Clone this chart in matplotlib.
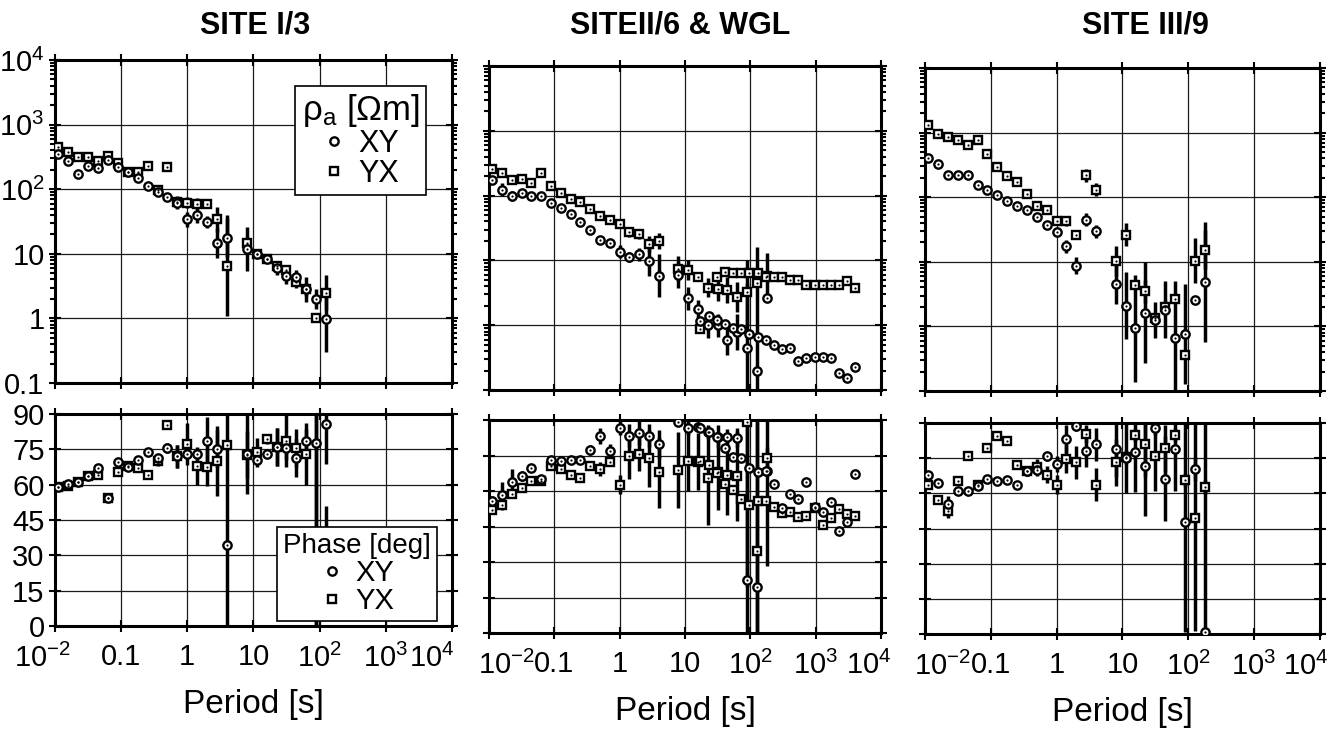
# apparent resistivity and phase curves for three MT sites
import numpy as np
import matplotlib.pyplot as plt
import matplotlib.transforms as mtransforms
from matplotlib.ticker import FixedLocator, LogLocator, NullFormatter
from matplotlib.lines import Line2D

plt.rcParams['font.family'] = ['Liberation Sans', 'DejaVu Sans']
plt.rcParams['mathtext.fontset'] = 'custom'
plt.rcParams['mathtext.rm'] = 'Liberation Sans'
plt.rcParams['mathtext.it'] = 'Liberation Sans:italic'
plt.rcParams['mathtext.bf'] = 'Liberation Sans:bold'

# periods [s]
per = [0.0112, 0.0158, 0.0224, 0.0316, 0.0447, 0.0631, 0.0891, 0.126, 0.178, 0.251,
       0.355, 0.501, 0.708, 1.0, 1.41, 2.0, 2.82, 3.98, 7.94, 11.2,
       15.8, 22.4, 31.6, 44.7, 63.1, 89.1, 126, 178]
per_wgl = [17.3, 23.1, 30.8, 41.0, 54.6, 72.8, 97.0, 129, 172, 230,
           306, 408, 543, 724, 965, 1286, 1713, 2283, 3042, 4054]

x_ticks = [1e-2, 0.1, 1, 10, 100, 1e3, 1e4]
x_labels = ['$10^{-2}$', '0.1', '1', '10', '$10^{2}$', '$10^{3}$', '$10^{4}$']
rho_ticks = [0.1, 1, 10, 100, 1e3, 1e4]
rho_labels = ['0.1', '1', '10', '$10^{2}$', '$10^{3}$', '$10^{4}$']
phase_ticks = [0, 15, 30, 45, 60, 75, 90]

# SITE I/3  (rho in Ohm m, rho errors in decades, phase and errors in deg)
s1_rxy = [351, 277, 174, 226, 215, 283, 218, 185, 151, 111, 92, 77, 62, 34,
          40, 31, 14.5, 17.8, 11.8, 9.8, 8.2, 6.0, 4.6, 4.4, 2.8, 2.0, 0.97]
s1_rxy_e = [0, 0, 0, 0, 0, 0, 0, 0, 0, 0, 0, 0.02, 0.1, 0.12,
            0.13, 0.1, 0.23, 0.3, 0.34, 0.05, 0.03, 0.1, 0.13, 0.1, 0.2, 0.15, 0.5]
s1_ryx = [455, 372, 319, 319, 274, 327, 251, 187, 185, 226, 97, 223, 64, 62,
          60, 60, 34, 6.5, 14.5, 10, 8.2, 6.5, 5.6, 3.7, 2.8, 1.02, 2.5]
s1_ryx_e = [0, 0, 0, 0, 0, 0, 0, 0, 0, 0, 0, 0, 0.05, 0.08,
            0.08, 0.05, 0.2, 0.78, 0.1, 0, 0, 0.05, 0.05, 0.1, 0.1, 0.05, 0.27]
s1_pxy = [58.8, 60.2, 61, 63.5, 67, 54.2, 69.8, 67.3, 70.3, 73.7, 71.5, 75.5, 72, 73,
          73, 78.6, 75, 34.4, 73, 70.5, 73, 76, 75.5, 71.3, 78.6, 77.6, 85.7]
s1_pxy_e = [0, 1, 0, 0, 0, 1, 0, 0, 0, 0, 1, 2, 5, 2,
            2, 10, 8, 60, 17, 2, 1, 8, 5, 8, 5, 80, 17]
s1_pyx = [59, 59.6, 61, 63.5, 64.2, 54.2, 65.3, 68.1, 67, 64.2, 70.1, 85.5, 72, 77.2,
          68, 67.3, 70, 77, 72.7, 73.7, 79.4, 76, 78.6, 75.5, 73, 40, 38]
s1_pyx_e = [0, 0, 0, 0, 1, 1, 0, 0, 0, 0, 2, 2, 5, 9,
            8, 8, 15, 2, 10, 6, 2, 8, 11, 8, 13, 60, 13]

# SITE II/6
s2_rxy = [177, 124, 98, 108, 99, 98, 78, 65, 52, 39, 30, 21, 18.9, 13.6,
          11.4, 12.5, 9.9, 5.8, 5.9, 2.6, 1.75, 1.0, 1.0, 0.59, 0.79, 0.45, 0.2, 2.6]
s2_rxy_e = [0, 0.1, 0.08, 0, 0, 0, 0, 0, 0, 0, 0, 0.05, 0.05, 0.1,
            0.08, 0.1, 0.24, 0.33, 0.2, 0.18, 0.15, 0.2, 0.18, 0.23, 0.28, 1.0, 1.9, 0.05]
s2_ryx = [261, 224, 173, 179, 159, 224, 140, 108, 88, 80, 62, 49, 42, 37,
          27.6, 25.4, 17.8, 19.8, 7.5, 7.1, 5.5, 3.8, 3.6, 3.5, 2.7, 3.2, 4.5, 5.7]
s2_ryx_e = [0, 0, 0, 0, 0, 0, 0, 0, 0, 0, 0, 0, 0, 0.05,
            0.08, 0.08, 0.12, 0.12, 0.2, 0.15, 0.05, 0.15, 0.18, 0.2, 0.23, 0.5, 0, 0.36]
s2_pxy = [55.8, 58.4, 64, 66.4, 69.9, 65, 73.1, 72.7, 73.1, 73.1, 77.3, 83.3, 76.9, 86.5,
          83.4, 84.4, 83.4, 79.7, 89.3, 86.5, 87.2, 85.1, 83, 83, 82.5, 22.5, 19.3, 68.5]
s2_pxy_e = [2, 5.6, 5.3, 2, 0, 0, 0, 0, 0, 0, 2, 3.5, 3, 3,
            5, 5, 5, 6, 2, 3, 2, 3, 5, 3, 4, 70, 70, 40]
s2_pyx = [52, 54.1, 58.6, 61.2, 64.4, 64.4, 70.6, 69.3, 66.8, 65.4, 70.6, 69.3, 72.4, 62.6,
          75, 75.5, 73.8, 67.9, 68.9, 72.8, 72.4, 65.7, 67.9, 66.8, 66.5, 89.3, 34.7, 73.8]
s2_pyx_e = [1, 2, 1, 1, 0, 0, 0, 0, 0, 0, 0, 3, 2, 4,
            10, 7, 12, 15, 16, 13, 12, 20, 16, 17, 19, 70, 60, 5]

# WGL long period data
wgl_rxy = [1.17, 1.4, 1.2, 1.04, 0.92, 0.89, 0.73, 0.65, 0.6, 0.49,
           0.43, 0.45, 0.28, 0.31, 0.32, 0.32, 0.31, 0.185, 0.155, 0.23]
wgl_ryx = [0.87, np.nan, 5.5, 6.7, 6.3, 6.3, 6.5, 6.3, 5.6, 5.5,
           5.5, 5.0, 5.05, 4.2, 4.2, 4.2, 4.2, 4.2, 4.8, 3.8]
wgl_pxy = [86.5, 84.8, 83, 78, 74.5, 74.1, 69.9, 68.2, 68.5, 62.9,
           52.7, 58.6, 56.7, 64, 53.2, 51.3, 55.3, 43.2, 46.7, 67.2]
wgl_pyx = [72.7, 71, 67.5, 62.9, 60.5, 56.7, 53.9, 55.8, 55.8, 53.4,
           50.6, 51.3, 49.2, 49.6, 52.7, 45.7, 48.8, 52.5, 50.4, 49.5]

# SITE III/9
s3_rxy = [408, 322, 220, 220, 220, 157, 127, 107, 87, 72, 63, 49, 37, 29,
          17.3, 8.7, 45, 29.6, 4.5, 2.1, 0.93, 1.63, 1.25, 1.8, 0.67, 0.76, 2.6, 4.8]
s3_rxy_e = [0, 0, 0, 0, 0, 0, 0, 0, 0, 0, 0, 0, 0, 0,
            0.1, 0.13, 0.1, 0.1, 0.31, 0.52, 0.83, 0.78, 0.28, 0.44, 0.88, 0.78, 0.05, 0.93]
s3_ryx = [1300, 942, 857, 760, 635, 769, 460, 292, 212, 171, 110, 72, 64, 43,
          43, 25.6, 220, 131, 10.4, 26.3, 4.4, 3.5, 1.33, 2.0, 2.7, 0.36, 10.4, 15.4]
s3_ryx_e = [0, 0, 0, 0, 0, 0, 0, 0, 0, 0, 0, 0, 0, 0.05,
            0.08, 0.05, 0.1, 0.1, 0.23, 0.18, 0.05, 0.18, 0.05, 0.1, 0.05, 0.05, 0.35, 0.3]
s3_pxy = [68, 64.4, 55.4, 60.9, 60.9, 63, 66.1, 65.1, 65.8, 63.7, 69.4, 70.1, 75.8, 72.5,
          83.2, 88.6, 78.2, 81, 78.9, 75.1, 77.6, 71.5, 87.9, 66.3, 79, 47.8, 70.4, 0.8]
s3_pxy_e = [0, 0, 3.5, 1.5, 0, 0, 0, 0, 0, 0, 2, 0, 2, 3.5,
            6, 2, 7, 7, 12, 15, 17, 21, 3, 18, 18, 47, 5, 92]
s3_pyx = [63.4, 57.3, 52.3, 65.1, 75.8, 63.4, 79.3, 84.3, 82.2, 71.9, 69.4, 71.1, 68, 63.7,
          74.6, 73.2, 85.3, 63.7, 73.2, 75.4, 84.7, 81, 75.8, 79.3, 85, 65.5, 49.5, 62.6]
s3_pyx_e = [0, 0, 3, 1.5, 1.5, 0, 0, 0, 0, 1.5, 2, 3.5, 3.5, 4,
            6, 7, 4, 7, 10, 3, 3, 14, 15, 10, 3, 3, 48, 3]

MS = 6
MEW = 1.7
FS = 21


def marks(ax, T, v, marker):
	# open symbol with a small dot in the middle, like the printed plot
	ax.plot(T, v, ls='none', marker=marker, ms=MS, mfc='white', mec='black', mew=MEW, zorder=4)
	ax.plot(T, v, ls='none', marker='o', ms=1.6, mfc='black', mec='black', mew=0, zorder=5)


def draw_rho(ax, T, r, e, marker):
	r = np.array(r, float)
	e = np.array(e, float)
	lo = r - r / 10 ** e
	hi = r * 10 ** e - r
	ax.errorbar(T, r, yerr=[lo, hi], fmt='none', ecolor='black', elinewidth=2.5, capsize=0, zorder=3)
	marks(ax, T, r, marker)


def draw_phase(ax, T, p, e, marker):
	ax.errorbar(T, p, yerr=e, fmt='none', ecolor='black', elinewidth=2.5, capsize=0, zorder=3)
	marks(ax, T, p, marker)


def style(ax):
	ax.set_xscale('log')
	ax.set_xlim(1e-2, 1e4)
	ax.xaxis.set_major_locator(FixedLocator(x_ticks))
	ax.xaxis.set_minor_locator(LogLocator(base=10, subs=np.arange(2, 10)))
	ax.xaxis.set_minor_formatter(NullFormatter())
	ax.set_axisbelow(True)
	ax.grid(True, which='major', color='0.1', lw=0.9)
	ax.tick_params(which='both', top=True, right=True, width=1.5, color='black', labelsize=FS)
	ax.tick_params(which='major', direction='inout', length=9)
	ax.tick_params(which='minor', direction='out', length=3.5)
	for s in ax.spines.values():
		s.set_linewidth(2.2)


def shift_labels(fig, ax, dx_first, dx_last):
	labs = ax.get_xticklabels()
	for lab, dx in ((labs[0], dx_first), (labs[-1], dx_last)):
		off = mtransforms.ScaledTranslation(dx / 100, 0, fig.dpi_scale_trans)
		lab.set_transform(lab.get_transform() + off)


def make_legend(ax, title, anchor, loc, fs, title_fs):
	h = [Line2D([], [], ls='none', marker='o', ms=MS, mfc='white', mec='black', mew=MEW),
	     Line2D([], [], ls='none', marker='s', ms=MS, mfc='white', mec='black', mew=MEW)]
	leg = ax.legend(h, ['XY', 'YX'], title=title, loc=loc, bbox_to_anchor=anchor,
	                borderaxespad=0, fontsize=fs, title_fontsize=title_fs, fancybox=False,
	                edgecolor='black', framealpha=1, handletextpad=0.4, borderpad=0.2,
	                labelspacing=0.0, handlelength=0.8)
	leg.get_frame().set_linewidth(1.2)
	leg.set_zorder(10)
	return leg


fig = plt.figure(figsize=(13.37, 7.33), dpi=100)

# [left, bottom, width, height] for rho and phase axes of each site
boxes = [
	([0.0411, 0.4775, 0.2969, 0.4407], [0.0411, 0.1460, 0.2969, 0.2892]),
	([0.3657, 0.4679, 0.2932, 0.4420], [0.3657, 0.1364, 0.2932, 0.2906]),
	([0.6918, 0.4666, 0.2954, 0.4407], [0.6918, 0.1350, 0.2954, 0.2879]),
]
titles = ['SITE I/3', 'SITEII/6 & WGL', 'SITE III/9']
title_x = [255, 680, 1145]
first_shift = [-13, 17, 17]
last_shift = [-20, -12, -14]

sites = [
	(per[:27], s1_rxy, s1_rxy_e, s1_ryx, s1_ryx_e, s1_pxy, s1_pxy_e, s1_pyx, s1_pyx_e),
	(per, s2_rxy, s2_rxy_e, s2_ryx, s2_ryx_e, s2_pxy, s2_pxy_e, s2_pyx, s2_pyx_e),
	(per, s3_rxy, s3_rxy_e, s3_ryx, s3_ryx_e, s3_pxy, s3_pxy_e, s3_pyx, s3_pyx_e),
]

for i in range(3):
	ax_r = fig.add_axes(boxes[i][0])
	ax_p = fig.add_axes(boxes[i][1])
	T, rxy, rxy_e, ryx, ryx_e, pxy, pxy_e, pyx, pyx_e = sites[i]

	for ax in (ax_r, ax_p):
		style(ax)

	ax_r.set_yscale('log')
	ax_r.set_ylim(0.1, 1e4)
	ax_r.yaxis.set_major_locator(FixedLocator(rho_ticks))
	ax_r.yaxis.set_minor_locator(LogLocator(base=10, subs=np.arange(2, 10)))
	ax_r.yaxis.set_minor_formatter(NullFormatter())
	ax_p.set_ylim(0, 90)
	ax_p.yaxis.set_major_locator(FixedLocator(phase_ticks))

	draw_rho(ax_r, T, ryx, ryx_e, 's')
	draw_rho(ax_r, T, rxy, rxy_e, 'o')
	draw_phase(ax_p, T, pyx, pyx_e, 's')
	draw_phase(ax_p, T, pxy, pxy_e, 'o')

	if i == 1:
		marks(ax_r, per_wgl, wgl_ryx, 's')
		marks(ax_r, per_wgl, wgl_rxy, 'o')
		marks(ax_p, per_wgl, wgl_pyx, 's')
		marks(ax_p, per_wgl, wgl_pxy, 'o')

	ax_r.set_xticklabels([])
	ax_p.set_xticks(x_ticks)
	ax_p.set_xticklabels(x_labels)
	ax_p.tick_params(axis='x', which='major', pad=8)
	shift_labels(fig, ax_p, first_shift[i], last_shift[i])
	ax_p.set_xlabel('Period [s]', fontsize=24, labelpad=12)

	if i == 0:
		ax_r.set_yticklabels(rho_labels)
		ax_p.set_yticklabels([str(v) for v in phase_ticks])
		ax_r.tick_params(axis='y', which='major', pad=3)
		ax_p.tick_params(axis='y', which='major', pad=3)
		make_legend(ax_r, 'ρ$_{\\mathregular{a}}$ [Ωm]', (0.934, 0.92), 'upper right', 22, 25)
		make_legend(ax_p, 'Phase [deg]', (0.962, 0.024), 'lower right', 21, 20)
	else:
		ax_r.set_yticklabels([])
		ax_p.set_yticklabels([])

	fig.text(title_x[i] / 1337, 1 - 26 / 733, titles[i], ha='center', va='center',
	         fontsize=22, fontweight='bold')

fig.savefig('out.png', dpi=100)
